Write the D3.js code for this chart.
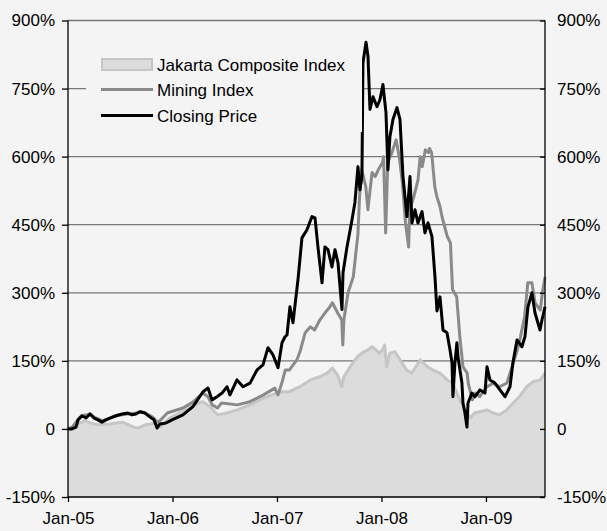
<!DOCTYPE html>
<html><head><meta charset="utf-8">
<script src="https://cdn.jsdelivr.net/npm/d3@7"></script>
<style>html,body{margin:0;padding:0;background:#f4f4f4;}svg{display:block;font-family:"Liberation Sans",Arial,sans-serif;}</style>
</head><body><svg id="c" width="607" height="531"></svg>
<script>
// x values are years since Jan 2005; values are % change
const xTicks = [0, 1, 2, 3, 4];
const xTickLabels = ["Jan-05", "Jan-06", "Jan-07", "Jan-08", "Jan-09"];
const yTicks = [-150, 0, 150, 300, 450, 600, 750, 900];
const yTickLabels = ["-150%", "0", "150%", "300%", "450%", "600%", "750%", "900%"];
const seriesNames = ["Jakarta Composite Index", "Mining Index", "Closing Price"];

const jakarta = [[0,0],[0.05,4],[0.11,13],[0.17,18],[0.21,13],[0.29,9],[0.40,11],[0.52,15],[0.63,4],[0.67,2],[0.74,9],[0.79,11],[0.82,13],[0.88,4],[0.97,24],[1.10,38],[1.20,53],[1.29,60],[1.36,49],[1.43,31],[1.52,35],[1.62,42],[1.74,53],[1.87,68],[2.00,79],[2.06,82],[2.12,82],[2.22,93],[2.32,108],[2.41,115],[2.48,123],[2.53,134],[2.58,119],[2.62,93],[2.64,115],[2.70,137],[2.77,159],[2.83,170],[2.87,174],[2.91,181],[2.95,174],[2.98,167],[3.01,174],[3.03,185],[3.05,137],[3.08,167],[3.13,170],[3.18,152],[3.24,130],[3.29,123],[3.37,152],[3.44,137],[3.49,130],[3.56,123],[3.63,108],[3.68,101],[3.75,64],[3.80,42],[3.85,24],[3.89,35],[3.94,38],[4.01,42],[4.07,35],[4.13,31],[4.20,42],[4.26,57],[4.32,71],[4.39,93],[4.45,104],[4.52,108],[4.565,123]];

const mining = [[0,0],[0.04,4],[0.10,22],[0.13,29],[0.17,31],[0.21,33],[0.25,26],[0.29,22],[0.33,18],[0.40,24],[0.46,29],[0.52,31],[0.57,33],[0.65,35],[0.69,38],[0.74,35],[0.79,29],[0.82,24],[0.85,15],[0.88,18],[0.95,35],[1.10,46],[1.20,60],[1.29,79],[1.34,71],[1.38,53],[1.43,46],[1.47,57],[1.62,53],[1.74,60],[1.87,75],[1.98,90],[2.01,75],[2.05,104],[2.08,130],[2.12,130],[2.19,152],[2.22,170],[2.27,212],[2.32,225],[2.36,218],[2.41,240],[2.46,256],[2.50,267],[2.53,278],[2.58,256],[2.62,240],[2.63,185],[2.64,240],[2.68,300],[2.73,335],[2.775,430],[2.79,512],[2.81,571],[2.85,534],[2.87,483],[2.91,565],[2.94,556],[2.97,571],[3.01,587],[3.02,600],[3.04,432],[3.06,587],[3.10,609],[3.14,637],[3.17,600],[3.20,543],[3.23,454],[3.26,401],[3.27,483],[3.31,512],[3.35,549],[3.37,600],[3.39,578],[3.42,615],[3.45,609],[3.46,618],[3.48,609],[3.51,534],[3.53,512],[3.56,490],[3.58,467],[3.63,424],[3.66,410],[3.68,307],[3.72,291],[3.75,203],[3.78,137],[3.82,123],[3.83,101],[3.87,64],[3.90,79],[3.94,71],[4.01,93],[4.07,101],[4.13,93],[4.20,101],[4.25,137],[4.30,174],[4.33,203],[4.37,247],[4.40,322],[4.44,322],[4.47,278],[4.52,262],[4.54,300],[4.565,335]];

const closing = [[0,0],[0.038,0],[0.077,4],[0.096,20],[0.134,29],[0.172,24],[0.211,33],[0.249,24],[0.287,20],[0.325,15],[0.364,20],[0.402,24],[0.459,29],[0.517,33],[0.574,35],[0.612,31],[0.651,33],[0.689,38],[0.737,35],[0.785,26],[0.823,20],[0.852,2],[0.880,11],[0.938,13],[0.995,20],[1.053,26],[1.100,31],[1.196,49],[1.292,82],[1.340,90],[1.378,64],[1.426,71],[1.474,79],[1.522,93],[1.550,75],[1.617,108],[1.675,93],[1.742,101],[1.809,130],[1.866,141],[1.914,179],[1.962,163],[2.010,135],[2.048,190],[2.077,203],[2.096,207],[2.124,269],[2.153,234],[2.201,329],[2.239,421],[2.287,439],[2.335,468],[2.364,465],[2.392,401],[2.431,322],[2.459,401],[2.488,395],[2.526,357],[2.555,395],[2.584,366],[2.622,263],[2.632,344],[2.670,401],[2.718,461],[2.746,499],[2.775,578],[2.794,527],[2.813,556],[2.823,807],[2.852,852],[2.871,821],[2.890,704],[2.919,732],[2.957,710],[2.986,726],[3.014,759],[3.043,697],[3.062,571],[3.081,644],[3.110,682],[3.148,708],[3.177,682],[3.206,556],[3.244,468],[3.273,556],[3.292,454],[3.321,483],[3.349,454],[3.388,479],[3.416,432],[3.445,454],[3.483,424],[3.512,335],[3.531,260],[3.560,291],[3.589,218],[3.627,212],[3.656,174],[3.675,146],[3.684,71],[3.703,146],[3.722,190],[3.732,159],[3.770,101],[3.780,57],[3.799,35],[3.818,4],[3.828,57],[3.866,79],[3.895,71],[3.943,86],[3.990,79],[4.010,137],[4.038,108],[4.086,101],[4.134,86],[4.182,71],[4.230,93],[4.258,146],[4.297,196],[4.344,181],[4.373,203],[4.402,269],[4.440,300],[4.469,256],[4.517,218],[4.536,240],[4.565,269]];

const L = 68, R = 545, T = 20.5, B = 497;
const svg = d3.select("#c");
const x = d3.scaleLinear().domain([0, 4.565]).range([L, R]);
const y = d3.scaleLinear().domain([-150, 900]).range([B, T]);

// gridlines
svg.append("g").selectAll("line").data(yTicks.filter(v => v > -150)).join("line")
  .attr("x1", L).attr("x2", R).attr("y1", d => y(d)).attr("y2", d => y(d))
  .attr("stroke", "#777").attr("stroke-width", 1.3);

// Jakarta area
svg.append("path").datum(jakarta)
  .attr("d", d3.area().x(d => x(d[0])).y0(y(-150)).y1(d => y(d[1])))
  .attr("fill", "#dcdcdc");
svg.append("path").datum(jakarta)
  .attr("d", d3.line().x(d => x(d[0])).y(d => y(d[1])))
  .attr("fill", "none").attr("stroke", "#c6c6c6").attr("stroke-width", 3).attr("stroke-linejoin", "round");

// lines
svg.append("path").datum(mining)
  .attr("d", d3.line().x(d => x(d[0])).y(d => y(d[1])))
  .attr("fill", "none").attr("stroke", "#8a8a8a").attr("stroke-width", 3).attr("stroke-linejoin", "round");
svg.append("path").datum(closing)
  .attr("d", d3.line().x(d => x(d[0])).y(d => y(d[1])))
  .attr("fill", "none").attr("stroke", "#000").attr("stroke-width", 3).attr("stroke-linejoin", "round");

// axes
const fmtY = d => yTickLabels[yTicks.indexOf(d)];
const fmtX = d => xTickLabels[xTicks.indexOf(d)];
const gl = svg.append("g").attr("transform", `translate(${L},0)`)
  .call(d3.axisLeft(y).tickValues(yTicks).tickFormat(fmtY).tickSize(6).tickPadding(7));
const gr = svg.append("g").attr("transform", `translate(${R},0)`)
  .call(d3.axisRight(y).tickValues(yTicks).tickFormat(fmtY).tickSize(-5).tickPadding(12));
const gb = svg.append("g").attr("transform", `translate(0,${B})`)
  .call(d3.axisBottom(x).tickValues(xTicks).tickFormat(fmtX).tickSize(5).tickPadding(10));
[gl, gr, gb].forEach(g => {
  g.select(".domain").attr("stroke", "#000").attr("stroke-width", 1.3);
  g.selectAll(".tick line").attr("stroke", "#000").attr("stroke-width", 1.3);
  g.selectAll("text").attr("font-size", 17).attr("fill", "#000")
    .attr("font-family", '"Liberation Sans", Arial, sans-serif');
});
gl.select(".domain").attr("d", `M0,${T}V${B}`);
gr.select(".domain").attr("d", `M0,${T}V${B}`);
gb.select(".domain").attr("d", `M${L},0H${R}`);

// legend
const lg = svg.append("g");
lg.append("rect").attr("x", 86).attr("y", 48).attr("width", 276).attr("height", 84).attr("fill", "#f4f4f4");
lg.append("rect").attr("x", 102).attr("y", 59).attr("width", 50).attr("height", 11)
  .attr("fill", "#dcdcdc").attr("stroke", "#c6c6c6").attr("stroke-width", 2);
lg.append("line").attr("x1", 101).attr("x2", 153).attr("y1", 89.5).attr("y2", 89.5)
  .attr("stroke", "#8a8a8a").attr("stroke-width", 3);
lg.append("line").attr("x1", 101).attr("x2", 153).attr("y1", 115.5).attr("y2", 115.5)
  .attr("stroke", "#000").attr("stroke-width", 3);
const ly = [70.5, 96, 122];
lg.selectAll("text").data(seriesNames).join("text")
  .attr("x", 157).attr("y", (d, i) => ly[i]).attr("font-size", 17).attr("fill", "#000").text(d => d);
</script></body></html>
